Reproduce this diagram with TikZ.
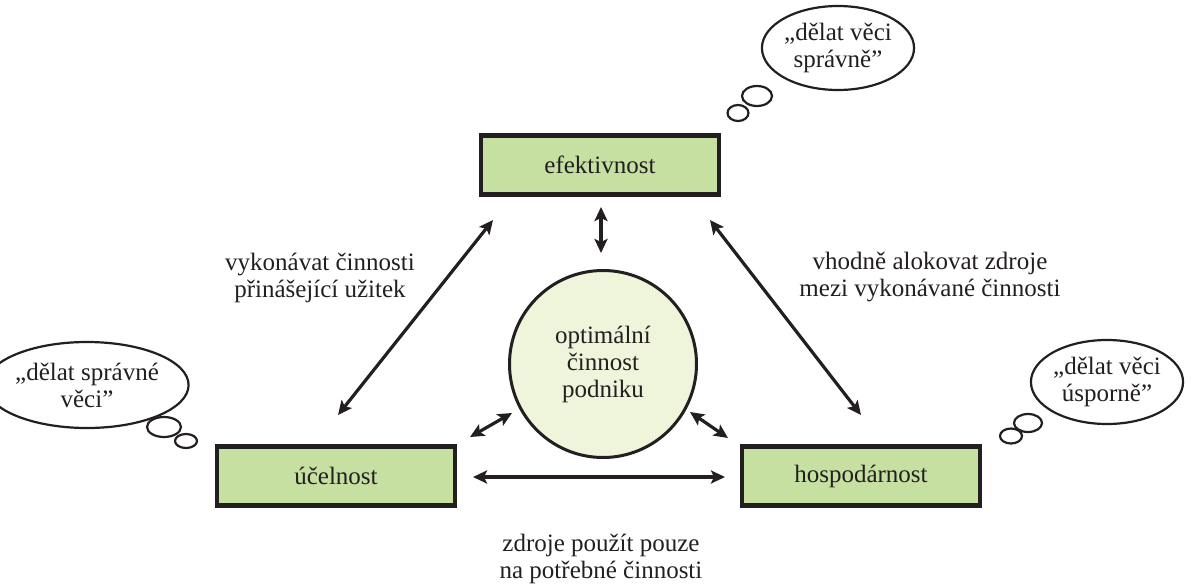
\documentclass[tikz,border=0pt]{standalone}
\usepackage{fontspec}
\setmainfont{Liberation Serif}
\usetikzlibrary{arrows.meta,calc,shapes.geometric}
\definecolor{boxgreen}{HTML}{C6E0A2}
\definecolor{circgreen}{HTML}{EEF5DA}
\definecolor{ink}{HTML}{231F20}
\tikzset{
  boxnode/.style={draw=ink, line width=4.5pt, fill=boxgreen, minimum width=238pt, minimum height=59pt, inner sep=0pt, text=ink},
  circnode/.style={circle, draw=ink, line width=3pt, fill=circgreen, minimum size=187pt, inner sep=0pt, align=center, text=ink},
  bubble/.style={ellipse, draw=ink, line width=2.2pt, fill=white, inner sep=0pt, align=center, text=ink},
  puff/.style={ellipse, draw=ink, line width=2.2pt, fill=white, inner sep=0pt},
  lbl/.style={align=center, text=ink},
  tip/.tip={Stealth[length=14pt,width=13pt,inset=3pt]},
  arr/.style={line width=3.2pt, draw=ink, tip-tip}
}
\begin{document}
\begin{tikzpicture}[x=1pt,y=-1pt, font=\fontsize{25}{27}\selectfont]
\useasboundingbox (0,0) rectangle (1192,584);
% main nodes
\node[boxnode] (eff) at (600,165) {efektivnost};
\node[boxnode] (ucel) at (336,476) {účelnost};
\node[boxnode] (hosp) at (861,476) {hospodárnost};
\node[circnode] (circ) at (603,364) {optimální\\činnost\\podniku};
% labels
\node[lbl] (l1) at (320,278) {vykonávat činnosti\\přinášející užitek};
\node[lbl] (l2) at (930,277) {vhodně alokovat zdroje\\mezi vykonávané činnosti};
\node[lbl] (l3) at (601,559) {zdroje použít pouze\\na potřebné činnosti};
% thought bubbles
\node[bubble, minimum width=152pt, minimum height=84pt] (b1) at (838,48) {„dělat věci\\správně”};
\node[puff, minimum width=30pt, minimum height=20pt] (b1p1) at (757,96) {};
\node[puff, minimum width=21pt, minimum height=16pt] (b1p2) at (738,113) {};
\node[bubble, minimum width=158pt, minimum height=86pt] (b2) at (87,385) {„dělat správné\\věci”};
\node[puff, minimum width=34pt, minimum height=20pt] (b2p1) at (164,427) {};
\node[puff, minimum width=22pt, minimum height=14pt] (b2p2) at (186,441) {};
\node[bubble, minimum width=142pt, minimum height=84pt] (b3) at (1107,382) {„dělat věci\\úsporně”};
\node[puff, minimum width=28pt, minimum height=18pt] (b3p1) at (1028,423) {};
\node[puff, minimum width=22pt, minimum height=15pt] (b3p2) at (1011,436) {};
% connectors
\draw[arr] ($(eff.center)+(1,42)$) -- ($(circ.center)+(-2,-111)$);
\draw[arr] ($(ucel.center)+(2,-61)$) -- ($(eff.center)+(-107,55)$);
\draw[arr] ($(hosp.center)+(0,-61)$) -- ($(eff.center)+(110,55)$);
\draw[arr] ($(ucel.center)+(137,1)$) -- ($(hosp.center)+(-136,1)$);
\draw[arr] ($(ucel.center)+(134,-39)$) -- ($(circ.center)+(-91,49)$);
\draw[arr] ($(hosp.center)+(-133,-38)$) -- ($(circ.center)+(87,48)$);
\end{tikzpicture}
\end{document}
